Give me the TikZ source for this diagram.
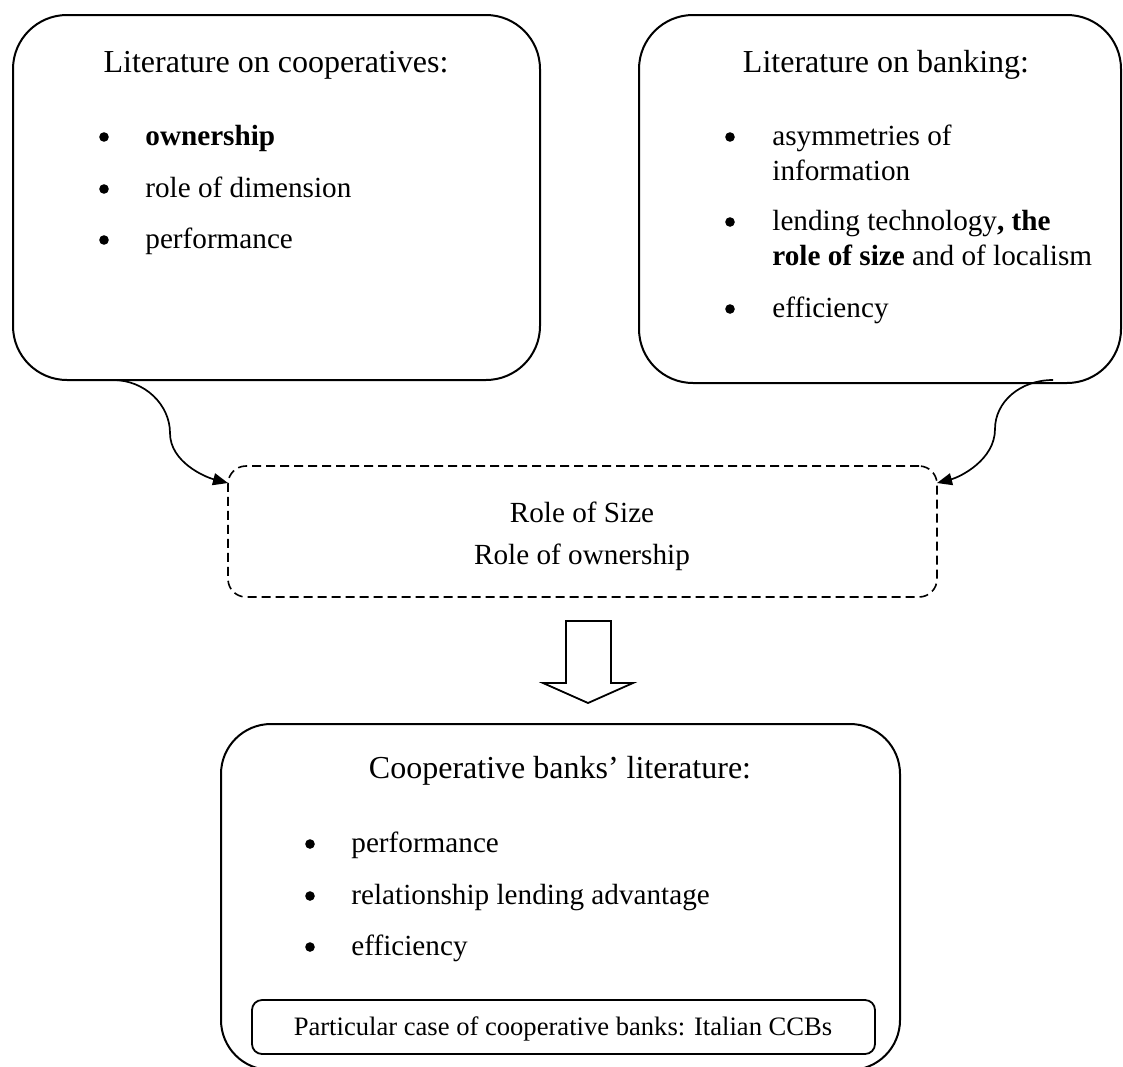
\documentclass[tikz,border=0pt]{standalone}
\usepackage{fontspec}
\setmainfont{Liberation Serif}
\usetikzlibrary{arrows.meta,fit}

\begin{document}
\begin{tikzpicture}[x=0.5pt,y=-0.5pt,
  panel/.style={draw, line width=1pt, rounded corners=27pt, inner sep=0pt},
  dashpanel/.style={draw, line width=0.8pt, dash pattern=on 4.5pt off 2.5pt, rounded corners=9pt, inner sep=0pt},
  smallpanel/.style={draw, line width=0.9pt, rounded corners=5pt, inner sep=0pt},
  headtext/.style={font=\fontsize{16pt}{19pt}\selectfont, anchor=base, inner sep=0pt},
  bodytext/.style={font=\fontsize{14.6pt}{17.5pt}\selectfont, anchor=base west, inner sep=0pt},
  midtext/.style={font=\fontsize{14.6pt}{17.5pt}\selectfont, anchor=base, inner sep=0pt},
  smalltext/.style={font=\fontsize{13.3pt}{16pt}\selectfont, anchor=base, inner sep=0pt},
  dot/.style={circle, fill, draw=none, minimum size=4.8pt, inner sep=0pt},
  conn/.style={line width=0.85pt, -{Triangle[length=7.5pt,width=6pt]}},
  blockarrow/.style={draw, line width=0.9pt, fill=white, line join=miter}
]
\useasboundingbox (0,0) rectangle (1123,1066);
\clip (0,0) rectangle (1123,1066);

% left panel: cooperatives
\node[panel, fit={(13,15) (540,380)}] (L) {};
\node[headtext] (Lt) at (276,72) {Literature on cooperatives:};
\node[dot] (Lb1) at (104,137) {};
\node[bodytext] (Li1) at (145,145) {\textbf{ownership}};
\node[dot] (Lb2) at (104,189) {};
\node[bodytext] (Li2) at (145,197) {role of dimension};
\node[dot] (Lb3) at (104,240) {};
\node[bodytext] (Li3) at (145,248) {performance};

% right panel: banking
\node[panel, fit={(639,15) (1121,383)}] (R) {};
\node[headtext] (Rt) at (886,72) {Literature on banking:};
\node[dot] (Rb1) at (730,137) {};
\node[bodytext] (Ri1a) at (772,145) {asymmetries of};
\node[bodytext] (Ri1b) at (772,180) {information};
\node[dot] (Rb2) at (730,222) {};
\node[bodytext] (Ri2a) at (772,230) {lending technology\textbf{, the}};
\node[bodytext] (Ri2b) at (772,265) {\textbf{role of size} and of localism};
\node[dot] (Rb3) at (730,309) {};
\node[bodytext] (Ri3) at (772,317) {efficiency};

% dashed synthesis box
\node[dashpanel, fit={(228,466) (937,597)}] (D) {};
\node[midtext] (D1) at (582,522) {Role of Size};
\node[midtext] (D2) at (582,564) {Role of ownership};

% curved connectors into the dashed box
\coordinate (la) at (113,380);
\coordinate (lb) at (228,483);
\coordinate (ra) at (1053,380);
\coordinate (rb) at (937,483);
\draw[conn] (la) .. controls (145,380) and (170,405) .. (170,433)
                 .. controls (170,462) and (205,477) .. (lb);
\draw[conn] (ra) .. controls (1020,380) and (995,402) .. (995,429)
                 .. controls (995,460) and (960,477) .. (rb);

% hollow block arrow
\draw[blockarrow] (566,621) -- (611,621) -- (611,683) -- (633,683)
  -- (588,703) -- (543,683) -- (566,683) -- cycle;

% bottom panel: cooperative banks
\node[panel, rounded corners=25pt, fit={(221,724) (900,1070)}] (B) {};
\node[headtext] (Bt) at (560,778) {Cooperative banks’ literature:};
\node[dot] (Bb1) at (310,844) {};
\node[bodytext] (Bi1) at (351,852) {performance};
\node[dot] (Bb2) at (310,896) {};
\node[bodytext] (Bi2) at (351,904) {relationship lending advantage};
\node[dot] (Bb3) at (310,947) {};
\node[bodytext] (Bi3) at (351,955) {efficiency};

% inner case box
\node[smallpanel, fit={(252,1000) (875,1054)}] (C) {};
\node[smalltext] (Ct) at (563,1035) {Particular case of cooperative banks: Italian CCBs};
\end{tikzpicture}
\end{document}
